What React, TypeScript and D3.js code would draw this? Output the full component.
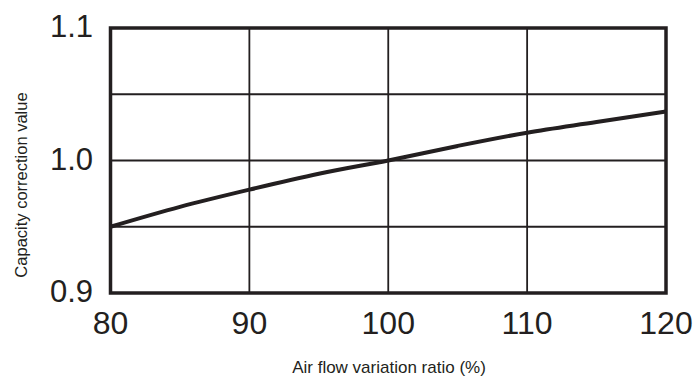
import { useEffect, useRef } from "react";
import * as d3 from "d3";

// air flow ratio (%) and capacity correction value
const airFlow = [80, 85, 90, 95, 100, 105, 110, 115, 120];
const correction = [0.95, 0.965, 0.978, 0.99, 1.0, 1.011, 1.021, 1.029, 1.037];
const xTicks = [80, 90, 100, 110, 120];
const yTicks = [0.9, 1.0, 1.1];
const yGrid = [0.95, 1.0, 1.05];

const W = 699;
const H = 380;
const ink = "#231f20";

export default function App() {
    const ref = useRef<SVGSVGElement | null>(null);

    useEffect(() => {
        if (!ref.current) return;
        const svg = d3.select(ref.current);
        svg.selectAll("*").remove();

        const x = d3.scaleLinear().domain([80, 120]).range([110.5, 666]);
        const y = d3.scaleLinear().domain([0.9, 1.1]).range([293, 28]);
        const font = "'Liberation Sans', Arial, Helvetica, sans-serif";

        // grid
        svg.append("g")
            .selectAll("line")
            .data(xTicks.slice(1, -1))
            .enter()
            .append("line")
            .attr("x1", d => x(d))
            .attr("x2", d => x(d))
            .attr("y1", y(0.9))
            .attr("y2", y(1.1))
            .attr("stroke", ink)
            .attr("stroke-width", 1.8);

        svg.append("g")
            .selectAll("line")
            .data(yGrid)
            .enter()
            .append("line")
            .attr("x1", x(80))
            .attr("x2", x(120))
            .attr("y1", d => y(d))
            .attr("y2", d => y(d))
            .attr("stroke", ink)
            .attr("stroke-width", 1.8);

        // curve
        const line = d3
            .line<number>()
            .x((_, i) => x(airFlow[i]))
            .y(d => y(d))
            .curve(d3.curveMonotoneX);

        svg.append("path")
            .datum(correction)
            .attr("d", line)
            .attr("fill", "none")
            .attr("stroke", ink)
            .attr("stroke-width", 4);

        // frame
        svg.append("rect")
            .attr("x", x(80))
            .attr("y", y(1.1))
            .attr("width", x(120) - x(80))
            .attr("height", y(0.9) - y(1.1))
            .attr("fill", "none")
            .attr("stroke", ink)
            .attr("stroke-width", 3.5);

        // tick labels
        svg.append("g")
            .selectAll("text")
            .data(xTicks)
            .enter()
            .append("text")
            .attr("x", d => x(d))
            .attr("y", 334)
            .attr("text-anchor", "middle")
            .attr("font-family", font)
            .attr("font-size", 32)
            .attr("fill", ink)
            .text(d => d);

        svg.append("g")
            .selectAll("text")
            .data(yTicks)
            .enter()
            .append("text")
            .attr("x", 93)
            .attr("y", d => y(d) + 9)
            .attr("text-anchor", "end")
            .attr("font-family", font)
            .attr("font-size", 31)
            .attr("fill", ink)
            .text(d => d.toFixed(1));

        // axis titles
        svg.append("text")
            .attr("x", 389)
            .attr("y", 373)
            .attr("text-anchor", "middle")
            .attr("font-family", font)
            .attr("font-size", 17)
            .attr("fill", ink)
            .text("Air flow variation ratio (%)");

        svg.append("text")
            .attr("transform", "translate(27,185) rotate(-90)")
            .attr("text-anchor", "middle")
            .attr("font-family", font)
            .attr("font-size", 16.5)
            .attr("fill", ink)
            .text("Capacity correction value");
    }, []);

    return (
        <svg
            ref={ref}
            width={W}
            height={H}
            style={{ position: "absolute", left: 0, top: 0, background: "#fff" }}
        />
    );
}
